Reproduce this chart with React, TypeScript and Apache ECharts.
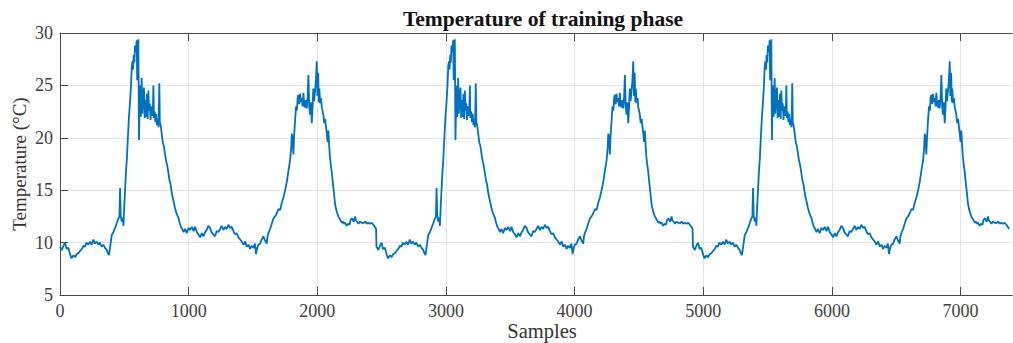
import React, { useEffect, useRef } from "react";
import * as echarts from "echarts";

// One recording run (sample index within run, temperature in °C); the figure shows three identical runs
const runSamples = [
  0, 15, 30, 40, 50, 65, 78, 90, 105, 117, 130, 145, 156, 170, 182, 194, 205, 220, 233, 245, 259, 270, 285, 298, 310, 325, 337, 350, 363, 372, 381, 390,
  402, 415, 428, 440, 454, 462, 467, 472, 480, 488, 493, 500, 513, 520, 526, 532, 537, 545, 552, 558, 563, 568, 573, 578, 583, 590, 596, 600, 604, 609,
  614, 619, 622, 628, 635, 640, 646, 653, 658, 664, 670, 676, 682, 687, 692, 698, 704, 710, 716, 722, 726, 730, 736, 742, 748, 754, 760, 766, 772, 776,
  782, 791, 800, 808, 816, 825, 833, 842, 850, 859, 868, 876, 885, 894, 903, 912, 920, 930, 940, 950, 960, 972, 985, 998, 1011, 1025, 1038, 1050, 1063,
  1076, 1089, 1102, 1115, 1128, 1140, 1153, 1166, 1178, 1190, 1205, 1218, 1230, 1244, 1257, 1270, 1283, 1296, 1309, 1322, 1335, 1348, 1360, 1373, 1387,
  1400, 1413, 1426, 1440, 1452, 1465, 1478, 1490, 1504, 1515, 1524, 1533, 1542, 1555, 1568, 1581, 1594, 1607, 1613, 1620, 1633, 1646, 1659, 1672, 1685,
  1698, 1711, 1724, 1737, 1750, 1763, 1776, 1788, 1797, 1802, 1808, 1814, 1820, 1828, 1835, 1842, 1847, 1853, 1860, 1866, 1873, 1879, 1886, 1892, 1899,
  1905, 1912, 1918, 1925, 1931, 1937, 1944, 1950, 1957, 1963, 1969, 1975, 1982, 1989, 1996, 2001, 2007, 2012, 2016, 2022, 2029, 2035, 2041, 2047, 2054,
  2061, 2068, 2074, 2080, 2086, 2092, 2098, 2105, 2112, 2120, 2128, 2138, 2146, 2155, 2164, 2173, 2182, 2190, 2200, 2208, 2216, 2228, 2240, 2250, 2260,
  2270, 2282, 2294, 2300, 2310, 2320, 2332, 2345, 2359, 2372, 2385, 2397, 2410, 2423, 2436, 2448, 2457,
];
const runTemps = [
  9.6, 9.3, 9.8, 10.0, 9.4, 9.5, 8.9, 8.5, 8.8, 8.6, 8.9, 9.0, 9.2, 9.4, 9.7, 9.6, 10.0, 9.8, 10.1, 9.8, 10.3, 9.9, 10.1, 9.8, 10.0, 9.6, 9.8, 9.5, 9.3, 9.0, 8.8, 9.6,
  10.7, 11.0, 11.4, 11.8, 12.3, 12.5, 15.2, 12.6, 12.0, 12.4, 11.6, 13.6, 16.8, 18.0, 19.6, 21.0, 22.2, 23.5, 25.0, 26.8, 27.3, 26.5, 27.9, 27.2, 28.8, 28.2, 29.3, 25.5, 27.0, 29.4,
  19.8, 23.5, 25.0, 22.0, 25.7, 22.3, 24.0, 24.8, 21.9, 23.6, 22.0, 24.2, 21.8, 24.5, 22.6, 23.3, 21.7, 23.0, 22.1, 22.8, 25.0, 21.9, 22.5, 21.5, 22.3, 21.2, 21.8, 21.0, 25.2, 21.5,
  21.2, 20.4, 19.5, 19.2, 18.5, 17.8, 17.4, 16.7, 16.0, 15.6, 14.8, 14.3, 13.8, 13.3, 12.9, 12.6, 12.4, 11.9, 11.5, 11.3, 11.0, 11.3, 10.9, 11.4, 11.2, 11.5, 11.1, 11.5, 11.0,
  10.8, 10.5, 10.9, 10.6, 11.0, 11.2, 11.6, 11.4, 11.0, 10.8, 10.6, 11.1, 11.0, 11.3, 11.6, 11.2, 11.5, 11.3, 11.7, 11.4, 11.5, 11.1, 10.8, 10.9, 10.5,
  10.3, 10.1, 9.8, 10.1, 9.6, 9.8, 9.4, 9.7, 9.5, 9.9, 8.9, 9.5, 9.8, 9.9, 10.3, 10.6, 10.2, 9.9, 10.6, 10.9, 11.3, 11.8, 12.3, 12.5, 12.8,
  13.2, 13.1, 13.8, 14.3, 15.0, 15.8, 16.9, 17.8, 19.0, 20.4, 20.0, 18.4, 20.2, 21.8, 23.0, 22.6, 23.8, 24.1, 23.2, 24.2, 23.4, 23.8, 23.0, 24.3, 23.1,
  22.9, 23.6, 22.8, 23.9, 26.0, 23.0, 22.2, 23.4, 21.4, 22.8, 24.7, 23.5, 24.4, 25.4, 27.3, 24.0, 26.2, 23.4, 24.7, 23.3, 23.8, 22.9, 22.6, 22.2, 21.4,
  21.8, 21.0, 20.4, 19.6, 20.7, 19.3, 18.2, 17.4, 16.8, 15.8, 14.9, 13.7, 13.2, 12.8, 12.5, 12.3, 12.1, 11.9, 12.0, 11.8, 11.9, 11.6, 11.8, 11.7, 12.2,
  12.3, 12.0, 12.5, 12.1, 12.0, 11.8, 12.0, 11.9, 11.85, 12.0, 11.8, 11.9, 11.8, 11.9, 11.7, 11.5, 11.3,
];
const runStarts = [0, 2460, 4920];
const xTickValues = [0, 1000, 2000, 3000, 4000, 5000, 6000, 7000];
const yTickValues = [5, 10, 15, 20, 25, 30];

const titleText = "Temperature of training phase";
const xLabelText = "Samples";
const yLabelText = "Temperature (°C)";

export default function App() {
  const ref = useRef<HTMLDivElement>(null);
  useEffect(() => {
    if (!ref.current) return;
    const chart = echarts.init(ref.current, null, { renderer: "svg" });
    const data: [number, number][] = [];
    runStarts.forEach((start) => {
      runSamples.forEach((s, i) => data.push([start + s, runTemps[i]]));
    });
    const axisColor = "#4a4a4a";
    const labelStyle = {
      fontFamily: "Liberation Serif",
      fontSize: 18,
      color: "#404040",
      formatter: (v: number) => String(v),
    };
    chart.setOption({
      animation: false,
      backgroundColor: "#ffffff",
      grid: { left: 60, right: 1, top: 33, bottom: 48, containLabel: false },
      graphic: [
        {
          type: "text",
          x: 543,
          y: 18.5,
          style: {
            text: titleText,
            fontFamily: "Liberation Serif",
            fontWeight: "bold",
            fontSize: 21.5,
            fill: "#111",
            align: "center",
            verticalAlign: "middle",
          },
        },
        {
          type: "text",
          x: 542,
          y: 330.5,
          style: {
            text: xLabelText,
            fontFamily: "Liberation Serif",
            fontSize: 20.5,
            fill: "#333",
            align: "center",
            verticalAlign: "middle",
          },
        },
        {
          type: "text",
          x: 19,
          y: 164,
          rotation: Math.PI / 2,
          style: {
            text: yLabelText,
            fontFamily: "Liberation Serif",
            fontSize: 19,
            fill: "#333",
            align: "center",
            verticalAlign: "middle",
          },
        },
      ],
      xAxis: [
        {
          type: "value",
          position: "bottom",
          min: 0,
          max: 7400,
          interval: 1000,
          axisLine: { show: true, onZero: false, lineStyle: { color: axisColor, width: 1 } },
          axisTick: { show: true, inside: true, length: 8, customValues: xTickValues, lineStyle: { color: axisColor } },
          axisLabel: { ...labelStyle, margin: 7, customValues: xTickValues },
          splitLine: { show: true, lineStyle: { color: "#e4e4e4", width: 1 } },
        },
        {
          type: "value",
          position: "top",
          min: 0,
          max: 7400,
          interval: 1000,
          axisLine: { show: true, onZero: false, lineStyle: { color: axisColor, width: 1 } },
          axisTick: { show: true, inside: true, length: 8, customValues: xTickValues, lineStyle: { color: axisColor } },
          axisLabel: { show: false },
          splitLine: { show: false },
        },
      ],
      yAxis: [
        {
          type: "value",
          position: "left",
          min: 5,
          max: 30,
          interval: 5,
          axisLine: { show: true, onZero: false, lineStyle: { color: axisColor, width: 1 } },
          axisTick: { show: true, inside: true, length: 8, customValues: yTickValues, lineStyle: { color: axisColor } },
          axisLabel: { ...labelStyle, margin: 7, customValues: yTickValues },
          splitLine: { show: true, showMinLine: false, showMaxLine: false, lineStyle: { color: "#e4e4e4", width: 1 } },
        },
      ],
      series: [
        {
          type: "line",
          xAxisIndex: 0,
          yAxisIndex: 0,
          data,
          showSymbol: false,
          symbol: "none",
          lineStyle: { color: "#0072BD", width: 1.8 },
          z: 3,
        },
      ],
    });
    return () => chart.dispose();
  }, []);
  return (
    <div
      ref={ref}
      style={{ position: "fixed", left: 0, top: 0, width: 1013, height: 343, background: "#fff" }}
    />
  );
}
